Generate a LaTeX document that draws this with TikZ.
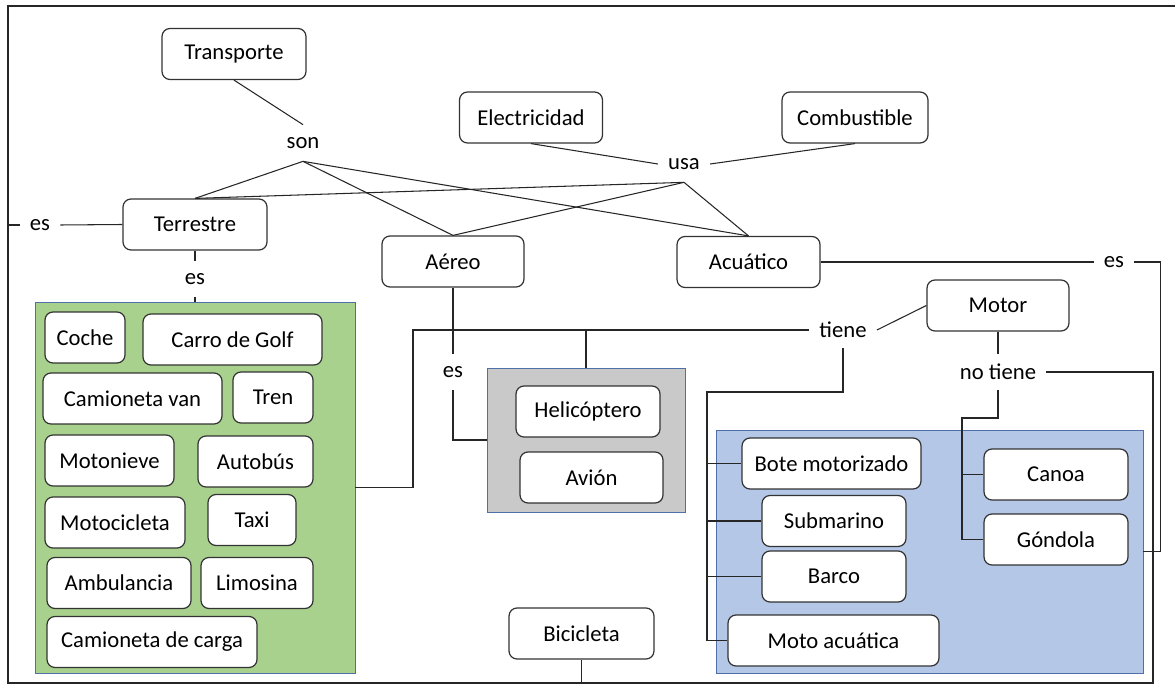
\documentclass[tikz,border=0pt]{standalone}
\usepackage{fontspec}
\setmainfont{Carlito}
\usetikzlibrary{calc}
\definecolor{verdec}{HTML}{A9D18E}
\definecolor{grisc}{HTML}{C9C9C9}
\definecolor{azulc}{HTML}{B4C7E7}
\definecolor{bordec}{HTML}{4F6FA8}
\tikzstyle{line} = [draw, black!85, line width=0.6pt]
\tikzstyle{block} = [rectangle, draw=black!80, line width=0.7pt, fill=white, text centered, rounded corners=0.16cm, minimum height=1.02cm]
\tikzstyle{lbl} = [inner xsep=0.2cm, inner ysep=0pt, minimum height=0.72cm]
\tikzstyle{grupo} = [rectangle, draw=bordec, line width=0.5pt]

\begin{document}
\begin{tikzpicture}[x=0.02cm, y=-0.02cm, font=\fontsize{12.9}{15}\selectfont]
\useasboundingbox (0,0) rectangle (1175,685);
% grupos
\node [grupo, fill=verdec, minimum width=6.4cm, minimum height=7.42cm] (verde) at (195,487.5) {};
\node [grupo, fill=grisc, minimum width=3.96cm, minimum height=2.88cm] (gris) at (586,440) {};
\node [grupo, fill=azulc, minimum width=8.54cm, minimum height=4.86cm] (azul) at (929.5,551.5) {};
% conceptos
\node [block, minimum width=2.88cm] (transporte) at (234,54) {Transporte};
\node [block, minimum width=2.86cm] (electricidad) at (531,117.5) {Electricidad};
\node [block, minimum width=2.92cm] (combustible) at (855,117.5) {Combustible};
\node [block, minimum width=2.88cm] (terrestre) at (195,224.5) {Terrestre};
\node [block, minimum width=2.84cm] (aereo) at (453,261.5) {Aéreo};
\node [block, minimum width=2.86cm] (acuatico) at (748.5,262) {Acuático};
\node [block, minimum width=2.84cm] (motor) at (998,305.5) {Motor};
\node [block, minimum width=2.88cm] (helicoptero) at (588,411.5) {Helicóptero};
\node [block, minimum width=2.86cm] (avion) at (591.5,477.5) {Avión};
\node [block, minimum width=1.6cm] (coche) at (85,337.5) {Coche};
\node [block, minimum width=3.58cm] (golf) at (232.5,339.5) {Carro de Golf};
\node [block, minimum width=3.58cm] (van) at (132.5,398.5) {Camioneta van};
\node [block, minimum width=1.6cm] (tren) at (273,397.5) {Tren};
\node [block, minimum width=2.58cm] (motonieve) at (109.5,460.5) {Motonieve};
\node [block, minimum width=2.3cm] (autobus) at (255.5,461.5) {Autobús};
\node [block, minimum width=2.8cm] (motocicleta) at (115,522.5) {Motocicleta};
\node [block, minimum width=1.76cm] (taxi) at (252,520) {Taxi};
\node [block, minimum width=2.88cm] (ambulancia) at (119,583) {Ambulancia};
\node [block, minimum width=2.24cm] (limosina) at (257,583) {Limosina};
\node [block, minimum width=4.2cm] (carga) at (152,642) {Camioneta de carga};
\node [block, minimum width=3.58cm] (bote) at (831.5,463.5) {Bote motorizado};
\node [block, minimum width=2.88cm] (submarino) at (834,521) {Submarino};
\node [block, minimum width=2.88cm] (barco) at (834,576.5) {Barco};
\node [block, minimum width=4.22cm] (moto) at (833.5,640.5) {Moto acuática};
\node [block, minimum width=2.88cm] (canoa) at (1056,474.5) {Canoa};
\node [block, minimum width=2.88cm] (gondola) at (1056,539.5) {Góndola};
\node [block, minimum width=2.9cm] (bicicleta) at (581.5,633.5) {Bicicleta};
% palabras de enlace
\node [lbl] (son) at (303,143) {son};
\node [lbl] (usa) at (684,164) {usa};
\node [lbl] (esizq) at (40,225) {es};
\node [lbl] (esterr) at (195,279) {es};
\node [lbl] (esaer) at (453,372) {es};
\node [lbl] (esacu) at (1114,262) {es};
\node [lbl] (tiene) at (843,330) {tiene};
\node [lbl] (notiene) at (998,372) {no tiene};
\coordinate (tl) at (8,6);
\coordinate (bl) at (8,683);
\coordinate (br) at (1153,683);
\coordinate (j1) at (413,330);
\coordinate (j2) at (707,392);
\coordinate (j3) at (962,418);
% marco
\path [line] (1175,6) -- (tl) -- (bl) -- (br) |- (notiene.east);
% enlaces
\path [line] (transporte.south) -- (son.north);
\path [line] (son.south) -- (terrestre.north);
\path [line] (son.south) -- (aereo.north);
\path [line] (son.south) -- (acuatico.north);
\path [line] (electricidad.south) -- (usa.west);
\path [line] (usa.east) -- (combustible.south);
\path [line] (usa.south) -- (terrestre.north);
\path [line] (usa.south) -- (aereo.north);
\path [line] (usa.south) -- (acuatico.north);
\path [line] (terrestre.west) -- (esizq.east);
\path [line] (esizq.west) -- (esizq.west -| tl);
\path [line] (terrestre.south) -- (esterr.north);
\path [line] (esterr.south) -- (verde.north);
\path [line] (aereo.south) -- (esaer.north);
\path [line] (esaer.south) |- (gris.west);
\path [line] (acuatico.east) -- (esacu.west);
\path [line] (esacu.east) -- ++(26,0) |- (azul.east);
\path [line] (motor.west) -- (tiene.east);
\path [line] (tiene.west) -- (j1) |- (verde.east);
\path [line] (gris.north) -- (gris.north |- tiene.west);
\path [line] (tiene.south) |- (j2) |- (bote.west);
\path [line] (tiene.south) |- (j2) |- (submarino.west);
\path [line] (tiene.south) |- (j2) |- (barco.west);
\path [line] (tiene.south) |- (j2) |- (moto.west);
\path [line] (motor.south) -- (notiene.north);
\path [line] (notiene.south) |- (j3) |- (canoa.west);
\path [line] (notiene.south) |- (j3) |- (gondola.west);
\path [line] (bicicleta.south) -- (bicicleta.south |- br);
\end{tikzpicture}
\end{document}
